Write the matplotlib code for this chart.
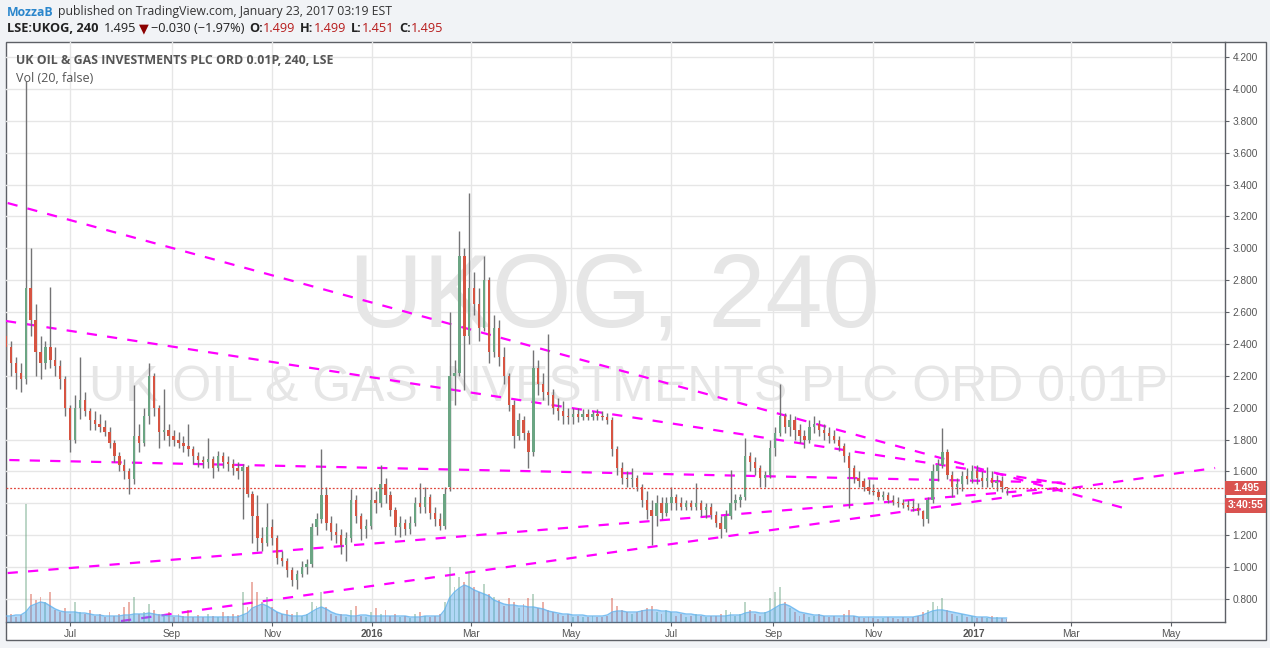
import matplotlib
matplotlib.use("Agg")
import matplotlib.pyplot as plt
import matplotlib.dates as mdates
import numpy as np
import pandas as pd
from matplotlib.patches import Rectangle

# -----------------------
# Data (3-day bars, LSE:UKOG)
# -----------------------
first_bar = "2015-05-23"

opens = [2.45, 2.38, 2.28, 2.22, 2.18, 2.75, 2.55, 2.35, 2.28, 2.38,
         2.30, 2.26, 2.18, 2.00, 1.80, 2.00, 2.05, 1.98, 1.92, 1.90,
         1.88, 1.85, 1.78, 1.70, 1.64, 1.60, 1.55, 1.82, 1.78, 1.95,
         2.20, 2.00, 1.85, 1.86, 1.82, 1.80, 1.78, 1.76, 1.74, 1.70,
         1.67, 1.66, 1.68, 1.62, 1.70, 1.66, 1.65, 1.62, 1.60, 1.63,
         1.46, 1.32, 1.18, 1.15, 1.25, 1.18, 1.06, 1.04, 0.98, 0.92,
         0.96, 1.00, 1.02, 1.25, 1.30, 1.45, 1.28, 1.22, 1.20, 1.14,
         1.18, 1.42, 1.32, 1.24, 1.26, 1.42, 1.40, 1.52, 1.45, 1.36,
         1.25, 1.28, 1.24, 1.28, 1.40, 1.38, 1.44, 1.34, 1.30, 1.26,
         1.50, 2.20, 2.22, 2.95, 2.45, 2.75, 2.65, 2.50, 2.80, 2.35,
         2.50, 2.32, 2.20, 2.02, 1.82, 1.92, 1.84, 1.72, 2.25, 2.15,
         2.10, 2.08, 2.00, 1.98, 1.95, 1.94, 1.96, 1.94, 1.96, 1.94,
         1.96, 1.95, 1.94, 1.92, 1.74, 1.62, 1.56, 1.55, 1.56, 1.50,
         1.42, 1.36, 1.32, 1.40, 1.34, 1.40, 1.44, 1.40, 1.38, 1.40,
         1.38, 1.40, 1.36, 1.38, 1.33, 1.28, 1.24, 1.32, 1.40, 1.42,
         1.44, 1.70, 1.66, 1.62, 1.56, 1.58, 1.75, 1.84, 1.95, 1.88,
         1.92, 1.86, 1.82, 1.80, 1.88, 1.90, 1.86, 1.84, 1.82, 1.80,
         1.76, 1.70, 1.62, 1.56, 1.54, 1.50, 1.48, 1.47, 1.44, 1.45,
         1.42, 1.41, 1.40, 1.39, 1.38, 1.37, 1.35, 1.30, 1.42, 1.60,
         1.64, 1.72, 1.58, 1.50, 1.52, 1.57, 1.55, 1.60, 1.56, 1.54,
         1.56, 1.53, 1.54, 1.499]

highs = [2.54, 2.42, 2.32, 2.28, 4.05, 3.00, 2.65, 2.45, 2.42, 2.76,
         2.38, 2.30, 2.20, 2.02, 2.08, 2.32, 2.10, 2.00, 1.98, 1.96,
         1.92, 1.88, 1.80, 1.72, 1.68, 1.62, 2.14, 1.90, 2.00, 2.28,
         2.22, 2.02, 2.12, 1.90, 1.86, 1.85, 1.82, 1.90, 1.76, 1.72,
         1.70, 1.81, 1.70, 1.73, 1.72, 1.70, 1.68, 1.66, 1.65, 1.64,
         1.48, 1.45, 1.25, 1.40, 1.30, 1.20, 1.10, 1.06, 1.00, 0.98,
         1.04, 1.05, 1.28, 1.34, 1.74, 1.50, 1.32, 1.28, 1.24, 1.22,
         1.49, 1.45, 1.34, 1.30, 1.50, 1.48, 1.64, 1.56, 1.48, 1.38,
         1.32, 1.30, 1.32, 1.44, 1.53, 1.50, 1.46, 1.38, 1.34, 1.50,
         2.60, 2.30, 3.11, 3.00, 3.35, 2.85, 2.75, 2.95, 2.82, 2.58,
         2.55, 2.38, 2.22, 2.05, 1.97, 1.95, 1.86, 2.36, 2.30, 2.22,
         2.46, 2.12, 2.06, 2.04, 2.00, 2.00, 2.00, 1.99, 1.99, 1.98,
         1.99, 1.98, 1.97, 1.94, 1.76, 1.66, 1.60, 1.62, 1.58, 1.52,
         1.48, 1.42, 1.45, 1.44, 1.44, 1.50, 1.46, 1.44, 1.42, 1.42,
         1.53, 1.42, 1.40, 1.40, 1.35, 1.32, 1.36, 1.61, 1.46, 1.46,
         1.81, 1.72, 1.69, 1.64, 1.60, 1.80, 1.88, 2.15, 1.97, 1.96,
         1.95, 1.90, 1.86, 1.92, 1.95, 1.92, 1.90, 1.88, 1.86, 1.82,
         1.78, 1.72, 1.64, 1.60, 1.56, 1.55, 1.52, 1.49, 1.48, 1.47,
         1.45, 1.44, 1.43, 1.42, 1.42, 1.40, 1.36, 1.44, 1.65, 1.68,
         1.87, 1.74, 1.60, 1.56, 1.60, 1.62, 1.64, 1.64, 1.60, 1.63,
         1.60, 1.58, 1.57, 1.499]

lows = [2.30, 2.20, 2.12, 2.10, 2.15, 2.45, 2.20, 2.18, 2.24, 2.25,
        2.20, 2.12, 1.95, 1.72, 1.78, 1.93, 1.95, 1.86, 1.86, 1.85,
        1.82, 1.75, 1.66, 1.60, 1.55, 1.46, 1.52, 1.72, 1.76, 1.90,
        1.95, 1.75, 1.80, 1.76, 1.76, 1.75, 1.72, 1.70, 1.65, 1.63,
        1.62, 1.62, 1.56, 1.60, 1.62, 1.60, 1.58, 1.55, 1.30, 1.44,
        1.15, 1.10, 1.10, 1.13, 1.14, 1.02, 1.01, 0.94, 0.88, 0.86,
        0.94, 0.96, 1.00, 1.20, 1.28, 1.23, 1.17, 1.15, 1.08, 1.04,
        1.16, 1.28, 1.17, 1.18, 1.24, 1.34, 1.38, 1.40, 1.32, 1.20,
        1.19, 1.20, 1.21, 1.26, 1.34, 1.34, 1.30, 1.26, 1.23, 1.24,
        1.48, 2.02, 2.20, 2.11, 2.40, 2.58, 2.42, 2.48, 2.28, 2.32,
        2.26, 2.15, 1.98, 1.75, 1.80, 1.80, 1.62, 1.70, 2.08, 2.05,
        2.02, 1.96, 1.92, 1.90, 1.90, 1.90, 1.91, 1.92, 1.92, 1.92,
        1.92, 1.92, 1.90, 1.70, 1.58, 1.52, 1.50, 1.50, 1.48, 1.38,
        1.30, 1.14, 1.26, 1.30, 1.32, 1.36, 1.36, 1.36, 1.36, 1.36,
        1.36, 1.32, 1.31, 1.30, 1.25, 1.18, 1.22, 1.30, 1.36, 1.38,
        1.42, 1.60, 1.58, 1.50, 1.50, 1.56, 1.70, 1.82, 1.84, 1.82,
        1.80, 1.78, 1.75, 1.78, 1.84, 1.82, 1.80, 1.78, 1.78, 1.73,
        1.66, 1.37, 1.53, 1.50, 1.48, 1.46, 1.45, 1.42, 1.42, 1.40,
        1.39, 1.38, 1.37, 1.36, 1.35, 1.33, 1.26, 1.28, 1.40, 1.54,
        1.62, 1.55, 1.44, 1.46, 1.48, 1.52, 1.53, 1.52, 1.50, 1.50,
        1.50, 1.48, 1.47, 1.451]

closes = [2.38, 2.28, 2.22, 2.18, 2.75, 2.55, 2.35, 2.28, 2.38, 2.30,
          2.26, 2.18, 2.00, 1.80, 2.00, 2.05, 1.98, 1.92, 1.90, 1.88,
          1.85, 1.78, 1.70, 1.64, 1.60, 1.55, 1.82, 1.78, 1.95, 2.20,
          2.00, 1.85, 1.86, 1.82, 1.80, 1.78, 1.76, 1.74, 1.70, 1.67,
          1.66, 1.68, 1.62, 1.70, 1.66, 1.65, 1.62, 1.60, 1.63, 1.46,
          1.32, 1.18, 1.15, 1.25, 1.18, 1.06, 1.04, 0.98, 0.92, 0.96,
          1.00, 1.02, 1.25, 1.30, 1.45, 1.28, 1.22, 1.20, 1.14, 1.18,
          1.42, 1.32, 1.24, 1.26, 1.42, 1.40, 1.52, 1.45, 1.36, 1.25,
          1.28, 1.24, 1.28, 1.40, 1.38, 1.44, 1.34, 1.30, 1.26, 1.46,
          2.20, 2.22, 2.95, 2.45, 2.75, 2.65, 2.50, 2.80, 2.35, 2.50,
          2.32, 2.20, 2.02, 1.82, 1.92, 1.84, 1.72, 2.25, 2.15, 2.10,
          2.08, 2.00, 1.98, 1.95, 1.94, 1.96, 1.94, 1.96, 1.94, 1.96,
          1.95, 1.94, 1.92, 1.74, 1.62, 1.56, 1.55, 1.56, 1.50, 1.42,
          1.36, 1.32, 1.40, 1.34, 1.40, 1.44, 1.40, 1.38, 1.40, 1.38,
          1.40, 1.36, 1.38, 1.33, 1.28, 1.24, 1.32, 1.40, 1.42, 1.44,
          1.70, 1.66, 1.62, 1.56, 1.58, 1.75, 1.84, 1.95, 1.88, 1.92,
          1.86, 1.82, 1.80, 1.88, 1.90, 1.86, 1.84, 1.82, 1.80, 1.76,
          1.70, 1.62, 1.56, 1.54, 1.50, 1.48, 1.47, 1.44, 1.45, 1.42,
          1.41, 1.40, 1.39, 1.38, 1.37, 1.35, 1.30, 1.42, 1.60, 1.64,
          1.72, 1.58, 1.50, 1.52, 1.57, 1.55, 1.60, 1.56, 1.54, 1.56,
          1.53, 1.54, 1.50, 1.495]

volume = [6, 8, 5, 7, 118, 28, 22, 25, 20, 30,
          12, 10, 14, 8, 20, 10, 8, 12, 6, 8,
          5, 10, 6, 8, 15, 20, 25, 8, 10, 18,
          12, 8, 6, 10, 5, 8, 6, 12, 5, 7,
          5, 8, 6, 5, 10, 6, 8, 7, 30, 15,
          40, 30, 20, 25, 15, 10, 8, 12, 8, 10,
          6, 8, 20, 16, 30, 15, 8, 6, 8, 5,
          12, 16, 6, 5, 10, 14, 8, 12, 6, 8,
          5, 6, 4, 8, 10, 6, 5, 6, 8, 20,
          55, 35, 45, 40, 50, 35, 30, 38, 28, 25,
          22, 16, 24, 20, 14, 18, 24, 28, 14, 20,
          12, 10, 8, 6, 8, 5, 6, 5, 5, 6,
          5, 5, 6, 24, 16, 12, 10, 8, 10, 12,
          14, 16, 10, 8, 12, 10, 6, 8, 5, 6,
          8, 6, 5, 6, 6, 8, 12, 10, 6, 8,
          20, 12, 8, 6, 10, 24, 30, 35, 20, 14,
          10, 6, 8, 5, 6, 8, 6, 5, 6, 4,
          8, 12, 6, 5, 4, 5, 4, 3, 4, 5,
          4, 3, 5, 4, 5, 6, 10, 12, 20, 16,
          24, 12, 8, 6, 8, 5, 6, 4, 5, 4,
          6, 5, 4, 3]

# "Vol (20)" moving-average level
volume_ma = [6, 6, 7, 7, 10, 16, 18, 20, 19, 16,
             13, 11, 10, 10, 10, 9, 9, 8, 7, 7,
             6, 6, 6, 6, 7, 7, 8, 8, 8, 9,
             8, 7, 7, 6, 6, 6, 5, 5, 5, 5,
             5, 5, 5, 5, 5, 5, 5, 5, 7, 9,
             14, 16, 18, 16, 13, 10, 8, 7, 6, 6,
             6, 7, 10, 13, 15, 13, 10, 8, 7, 7,
             6, 6, 7, 7, 6, 6, 6, 6, 6, 6,
             6, 6, 5, 5, 5, 6, 6, 6, 6, 12,
             24, 30, 34, 37, 35, 32, 30, 28, 26, 22,
             20, 18, 17, 17, 16, 16, 15, 15, 14, 13,
             11, 10, 9, 8, 8, 7, 7, 7, 6, 6,
             6, 6, 7, 10, 11, 11, 10, 10, 10, 11,
             12, 12, 12, 11, 11, 10, 10, 9, 8, 8,
             7, 7, 6, 6, 6, 6, 6, 7, 7, 7,
             9, 10, 10, 9, 9, 11, 14, 17, 18, 16,
             13, 10, 9, 8, 7, 7, 6, 6, 6, 6,
             6, 6, 6, 5, 5, 5, 5, 5, 5, 5,
             5, 5, 5, 5, 5, 6, 7, 9, 11, 12,
             12, 11, 10, 9, 8, 7, 6, 5, 5, 5,
             4, 4, 4, 4]

tick_dates = ["2015-07-01", "2015-09-01", "2015-11-01", "2016-01-01", "2016-03-01", "2016-05-01",
              "2016-07-01", "2016-09-01", "2016-11-01", "2017-01-01", "2017-03-01", "2017-05-01"]
tick_labels = ["Jul", "Sep", "Nov", "2016", "Mar", "May", "Jul", "Sep", "Nov", "2017", "Mar", "May"]
price_ticks = [0.8, 1.0, 1.2, 1.4, 1.6, 1.8, 2.0, 2.2, 2.4, 2.6, 2.8, 3.0, 3.2, 3.4, 3.6, 3.8, 4.0, 4.2]

# hand-drawn trend lines (start/end)
trend_start_dates = ["2015-05-24", "2015-05-23", "2015-05-25", "2015-05-24", "2015-08-01"]
trend_start_prices = [3.284, 2.544, 1.672, 0.963, 0.662]
trend_end_dates = ["2017-04-07", "2017-02-26", "2017-02-26", "2017-02-22", "2017-05-28"]
trend_end_prices = [1.358, 1.521, 1.530, 1.496, 1.622]

last_price = 1.495

# -----------------------
# Figure / layout (pixel based)
# -----------------------
W, H = 1270, 648
FONT = "Open Sans"
AXFONT = "Liberation Sans"


def fx(px):
    return px / W


def fy(py):
    return 1 - py / H


fig = plt.figure(figsize=(W / 100, H / 100), dpi=100)
fig.patch.set_facecolor("#f1f3f6")

panel = Rectangle((fx(6), fy(640)), fx(1266) - fx(6), fy(42) - fy(640), transform=fig.transFigure,
                  facecolor="white", edgecolor="#5d6066", lw=1.0, zorder=-5)
fig.patches.append(panel)

ax = fig.add_axes([fx(6), fy(622), fx(1225) - fx(6), fy(42) - fy(622)])
ax.set_facecolor("none")

dates = pd.date_range(first_bar, periods=len(closes), freq="3D")
xs = mdates.date2num(dates.to_pydatetime())
o = np.array(opens)
h = np.array(highs)
l = np.array(lows)
c = np.array(closes)
up = c >= o

ax.set_xlim(mdates.date2num(pd.Timestamp("2015-05-23")), mdates.date2num(pd.Timestamp("2017-06-03")))
ax.set_ylim(0.656, 4.294)

# grid
tick_x = mdates.date2num(pd.to_datetime(tick_dates).to_pydatetime())
ax.set_xticks(tick_x)
ax.set_xticklabels(tick_labels)
ax.set_yticks(price_ticks)
# the 1.400 label sits under the countdown tag in the original
ax.set_yticklabels(["" if abs(p - 1.4) < 1e-9 else "%.3f" % p for p in price_ticks])
ax.grid(True, color="#e6e6e6", lw=1.0, zorder=0)
ax.set_axisbelow(True)

# watermark
ax.text(0.499, 0.556, "UKOG, 240", transform=ax.transAxes, ha="center", va="center",
        fontsize=74, color="#e6e6e6", family=AXFONT, zorder=0.5)
ax.text(0.511, 0.403, "UK OIL & GAS INVESTMENTS PLC ORD 0.01P", transform=ax.transAxes, ha="center",
        va="center", fontsize=36, color="#e6e6e6", family=AXFONT, zorder=0.5)

# trend lines
for sd, sp, ed, ep in zip(trend_start_dates, trend_start_prices, trend_end_dates, trend_end_prices):
    x0 = mdates.date2num(pd.Timestamp(sd))
    x1 = mdates.date2num(pd.Timestamp(ed))
    ax.plot([x0, x1], [sp, ep], color="#ff00ff", lw=1.6, dashes=[4.6, 4.6], zorder=2, solid_capstyle="butt")

# candles
ax.vlines(xs, l, h, color="#737375", lw=1.0, zorder=3)
ax.bar(xs, np.maximum(np.abs(c - o), 0.006), bottom=np.minimum(o, c), width=1.4,
       color=np.where(up, "#6ba583", "#d75442"), linewidth=0, zorder=4)

# last price line
ax.axhline(last_price, color="#e0443a", lw=0.9, ls=(0, (1.5, 1.5)), zorder=5)

# volume pane
vax = ax.twinx()
vax.set_ylim(0, 580)
vax.set_axis_off()
vax.bar(xs, volume, width=1.2, color=np.where(up, "#6ba583", "#d75442"), alpha=0.45, linewidth=0)
vax.fill_between(xs, 0, volume_ma, color="#3d9be9", alpha=0.4, linewidth=0)
vax.plot(xs, volume_ma, color="#5cb0ee", lw=1.0, alpha=0.8)

# axes styling (after twinx, which resets tick sides)
ax.yaxis.tick_right()
for s in ["left", "top"]:
    ax.spines[s].set_visible(False)
for s in ["right", "bottom"]:
    ax.spines[s].set_color("#5d6066")
    ax.spines[s].set_linewidth(1.0)
ax.tick_params(axis="y", which="both", left=False, right=True, labelleft=False, labelright=True,
               length=3, width=0.8, color="#5d6066", pad=2.5, labelsize=7.3, labelcolor="#555555")
ax.tick_params(axis="x", length=3, width=0.8, color="#5d6066", pad=2.0, labelsize=7.4, labelcolor="#555555")
for lab in ax.get_yticklabels() + ax.get_xticklabels():
    lab.set_family(AXFONT)
for lab in ax.get_xticklabels():
    if lab.get_text() in ("2016", "2017"):
        lab.set_fontweight("bold")

# current price / countdown tags
for (y0, y1, txt, xt) in [(481, 495, "1.495", 1233), (498, 513, "3:40:55", 1228)]:
    fig.patches.append(Rectangle((fx(1225), fy(y1)), fx(1266) - fx(1225), fy(y0) - fy(y1),
                                 transform=fig.transFigure, facecolor="#d9534f", edgecolor="none", zorder=5))
    fig.text(fx(xt), fy((y0 + y1) / 2), txt, color="white", fontsize=7.5, family=AXFONT, fontweight="bold",
             ha="left", va="center", zorder=6)

# header + legend text, placed piece by piece
renderer = fig.canvas.get_renderer()


def put_line(pieces, x0, y, size):
    x = x0
    for txt, color, weight, gap in pieces:
        t = fig.text(fx(x), fy(y), txt, color=color, fontweight=weight, fontsize=size,
                     family=[FONT, "DejaVu Sans"], ha="left", va="center")
        x += t.get_window_extent(renderer).width + gap


put_line([("MozzaB", "#2a86cc", "bold", 4),
          ("published on TradingView.com, January 23, 2017 03:19 EST", "#333333", "normal", 0)], 7, 12, 8.85)
red = "#b71c1c"
put_line([("LSE:UKOG, 240", "#222222", "bold", 5),
          ("1.495", "#222222", "normal", 3),
          ("\u25bc", "#8b0000", "normal", 2),
          ("\u22120.030 (\u22121.97%)", "#222222", "normal", 5),
          ("O:", "#222222", "bold", 0), ("1.499", red, "normal", 5),
          ("H:", "#222222", "bold", 0), ("1.499", red, "normal", 5),
          ("L:", "#222222", "bold", 0), ("1.451", red, "normal", 5),
          ("C:", "#222222", "bold", 0), ("1.495", red, "normal", 0)], 7, 29, 9.2)

put_line([("UK OIL & GAS INVESTMENTS PLC ORD 0.01P, 240, LSE", "#555555", "bold", 0)], 16, 61, 8.9)
put_line([("Vol (20, false)", "#555555", "normal", 0)], 16, 78, 9.0)

fig.savefig("out.png", dpi=100, facecolor=fig.get_facecolor())
